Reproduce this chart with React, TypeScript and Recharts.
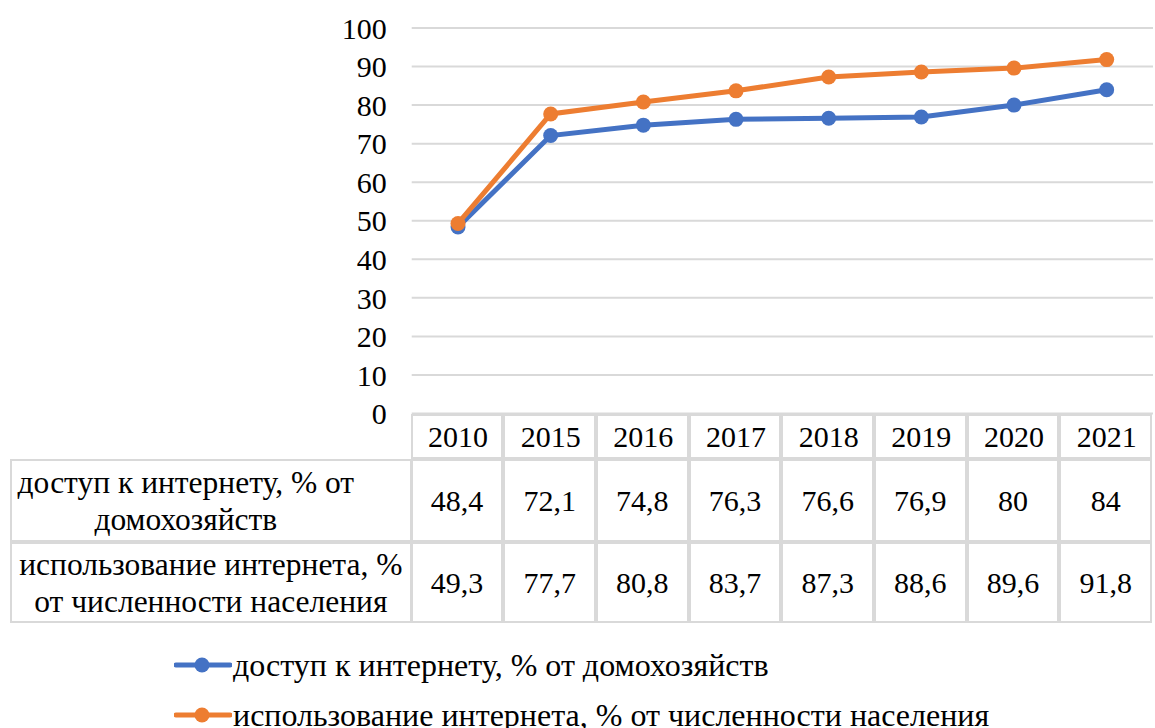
import { CartesianGrid, Line, LineChart, XAxis, YAxis } from "recharts";

// Years shown along the header row of the data table
const YEARS = ["2010", "2015", "2016", "2017", "2018", "2019", "2020", "2021"];

// Internet access, % of households
const HOUSEHOLD_ACCESS = [48.4, 72.1, 74.8, 76.3, 76.6, 76.9, 80, 84];
// Internet use, % of population
const POPULATION_USE = [49.3, 77.7, 80.8, 83.7, 87.3, 88.6, 89.6, 91.8];

const Y_TICKS = [0, 10, 20, 30, 40, 50, 60, 70, 80, 90, 100];

const SERIES = [
  {
    key: "access",
    name: "доступ к интернету, % от домохозяйств",
    lines: ["доступ к интернету, % от", "домохозяйств"],
    values: HOUSEHOLD_ACCESS,
    color: "#4472C4",
  },
  {
    key: "usage",
    name: "использование интернета, % от численности населения",
    lines: ["использование интернета, %", "от численности населения"],
    values: POPULATION_USE,
    color: "#ED7D31",
  },
];

const W = 1155;
const H = 728;
const PLOT_LEFT = 411.7;
const PLOT_RIGHT = 1153;
const PLOT_TOP = 28;
const PLOT_BOTTOM = 413.5;
const COL_W = (PLOT_RIGHT - PLOT_LEFT) / YEARS.length;
const ROW_TOPS = [414, 459, 542, 623];
const BORDER = "#d9d9d9";
const FONT = '"Liberation Serif", "DejaVu Serif", "Noto Serif", serif';

const fmt = (v: number) => String(v).replace(".", ",");

const data = YEARS.map((year, i) => ({
  year,
  access: HOUSEHOLD_ACCESS[i],
  usage: POPULATION_USE[i],
}));

function DataTable() {
  const cells: JSX.Element[] = [];
  // header row: one bordered cell per year (the year text comes from the x axis)
  YEARS.forEach((y, i) => {
    cells.push(
      <div
        key={`h${y}`}
        style={{
          position: "absolute",
          left: PLOT_LEFT + i * COL_W - 1,
          top: ROW_TOPS[0],
          width: COL_W,
          height: ROW_TOPS[1] - ROW_TOPS[0],
          boxSizing: "border-box",
          border: `2px solid ${BORDER}`,
        }}
      />
    );
  });
  SERIES.forEach((s, r) => {
    const top = ROW_TOPS[r + 1];
    const h = ROW_TOPS[r + 2] - top;
    cells.push(
      <div
        key={`l${s.key}`}
        style={{
          position: "absolute",
          left: 10,
          top,
          width: PLOT_LEFT - 10,
          height: h,
          boxSizing: "border-box",
          border: `2px solid ${BORDER}`,
          display: "flex",
          flexDirection: "column",
          justifyContent: "center",
          alignItems: "center",
          paddingRight: r === 0 ? 50 : 0,
          fontSize: 31.5,
          lineHeight: "37px",
          color: "#000",
        }}
      >
        {s.lines.map((t) => (
          <div key={t} style={{ whiteSpace: "nowrap" }}>
            {t}
          </div>
        ))}
      </div>
    );
    s.values.forEach((v, i) => {
      cells.push(
        <div
          key={`${s.key}${i}`}
          style={{
            position: "absolute",
            left: PLOT_LEFT + i * COL_W - 1,
            top,
            width: COL_W,
            height: h,
            boxSizing: "border-box",
            border: `2px solid ${BORDER}`,
            display: "flex",
            alignItems: "center",
            justifyContent: "center",
            fontSize: 30,
            color: "#000",
          }}
        >
          {fmt(v)}
        </div>
      );
    });
  });
  return <>{cells}</>;
}

function LegendBox() {
  return (
    <div style={{ position: "absolute", left: 174, top: 640 }}>
      {SERIES.map((s) => (
        <div
          key={s.key}
          style={{ display: "flex", alignItems: "center", height: 50, fontSize: 32, whiteSpace: "nowrap" }}
        >
          <svg width={58} height={20} style={{ marginRight: 1 }}>
            <line x1={2} y1={10} x2={56} y2={10} stroke={s.color} strokeWidth={5} strokeLinecap="round" />
            <circle cx={28} cy={10} r={7.5} fill={s.color} />
          </svg>
          <span>{s.name}</span>
        </div>
      ))}
    </div>
  );
}

export default function App() {
  return (
    <div
      style={{
        position: "absolute",
        left: 0,
        top: 0,
        width: W,
        height: H,
        background: "#fff",
        fontFamily: FONT,
        overflow: "hidden",
      }}
    >
      <LineChart
        width={W}
        height={H}
        data={data}
        margin={{ top: PLOT_TOP, right: W - PLOT_RIGHT, bottom: H - PLOT_BOTTOM - 30, left: 0 }}
      >
        <CartesianGrid stroke={BORDER} strokeWidth={2} vertical={false} />
        <XAxis
          dataKey="year"
          height={30}
          padding={{ left: COL_W / 2, right: COL_W / 2 }}
          tickLine={false}
          axisLine={false}
          tickSize={0}
          tickMargin={12}
          interval={0}
          tick={{ fontSize: 30, fill: "#000", fontFamily: FONT }}
        />
        <YAxis
          width={PLOT_LEFT}
          domain={[0, 100]}
          ticks={Y_TICKS}
          tickLine={false}
          axisLine={false}
          tickSize={0}
          tickMargin={25}
          interval={0}
          tick={{ fontSize: 30, fill: "#000", fontFamily: FONT }}
        />
        {SERIES.map((s) => (
          <Line
            key={s.key}
            dataKey={s.key}
            name={s.name}
            stroke={s.color}
            strokeWidth={5}
            dot={{ r: 7.5, fill: s.color, stroke: s.color, strokeWidth: 0 }}
            activeDot={false}
            isAnimationActive={false}
          />
        ))}
      </LineChart>
      <DataTable />
      <LegendBox />
    </div>
  );
}
